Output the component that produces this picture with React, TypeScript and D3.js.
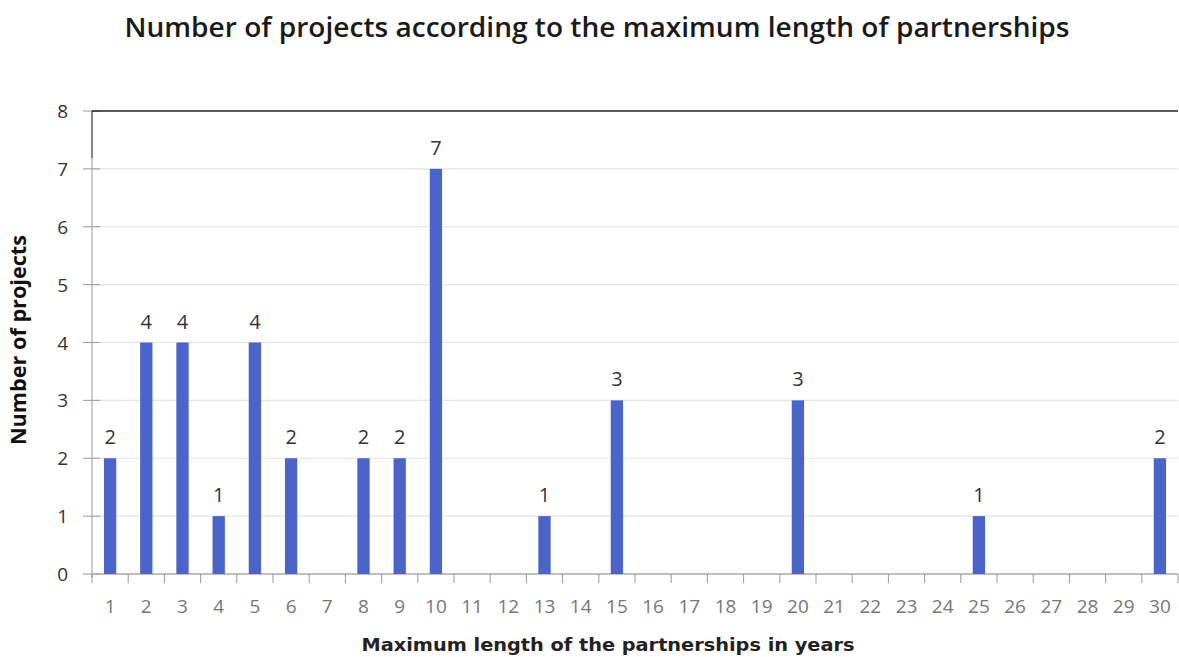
import React from "react";
import * as d3 from "d3";

const years = Array.from({ length: 30 }, (_, i) => String(i + 1));
const counts = [2, 4, 4, 1, 4, 2, 0, 2, 2, 7, 0, 0, 1, 0, 3, 0, 0, 0, 0, 3, 0, 0, 0, 0, 1, 0, 0, 0, 0, 2];
const yTicks = [0, 1, 2, 3, 4, 5, 6, 7, 8];

const W = 1179, H = 657;
const M = { left: 92, right: 1178, top: 111, bottom: 574 };

export default function App() {
  const x = d3.scaleBand<string>().domain(years).range([M.left, M.right]).paddingInner(0.66).paddingOuter(0.33);
  const xb = d3.scaleBand<string>().domain(years).range([M.left, M.right]);
  const y = d3.scaleLinear().domain([0, 8]).range([M.bottom, M.top]);
  const font = "'Open Sans', 'Noto Sans', sans-serif";
  return (
    <svg width={W} height={H} style={{ position: "absolute", left: 0, top: 0, background: "#fff" }}>
      <text x={597} y={37} textAnchor="middle" fontFamily={font} fontWeight={600} fontSize={27} fill="#1a1a1a" textLength={945} lengthAdjust="spacingAndGlyphs">
        Number of projects according to the maximum length of partnerships
      </text>
      {yTicks.map((t) => (
        <g key={t}>
          {t > 0 && t < 8 && <line x1={M.left} x2={M.right} y1={y(t)} y2={y(t)} stroke="#e3e3e3" strokeWidth={1.2} />}
          <line x1={M.left - 9} x2={M.left + 8} y1={y(t)} y2={y(t)} stroke="#999" strokeWidth={1} />
          <text x={68} y={y(t) + 7} textAnchor="end" fontFamily={font} fontSize={19} fill="#333">{t}</text>
        </g>
      ))}
      <line x1={M.left} x2={M.left} y1={M.top} y2={M.bottom + 4} stroke="#aaa" strokeWidth={1.2} />
      <line x1={M.left} x2={M.left} y1={M.top} y2={158} stroke="#555" strokeWidth={1.2} />
      <line x1={M.left} x2={M.right} y1={M.top} y2={M.top} stroke="#222" strokeWidth={1.5} />
      <line x1={M.left} x2={M.right} y1={M.bottom} y2={M.bottom} stroke="#aaa" strokeWidth={1.5} />
      {years.map((yr) => (
        <line key={"t" + yr} x1={xb(yr)!} x2={xb(yr)!} y1={M.bottom} y2={M.bottom + 9} stroke="#999" strokeWidth={1} />
      ))}
      <line x1={M.right} x2={M.right} y1={M.bottom} y2={M.bottom + 9} stroke="#999" strokeWidth={1} />
      {years.map((yr, i) => (
        <g key={yr}>
          {counts[i] > 0 && (
            <>
              <rect x={x(yr)!} y={y(counts[i])} width={x.bandwidth()} height={y(0) - y(counts[i])} fill="#4a64c9" />
              <text x={x(yr)! + x.bandwidth() / 2} y={y(counts[i]) - 14} textAnchor="middle" fontFamily={font} fontSize={20} fill="#333">
                {counts[i]}
              </text>
            </>
          )}
          <text x={xb(yr)! + xb.bandwidth() / 2} y={613} textAnchor="middle" fontFamily={font} fontSize={19} fill="#777">{yr}</text>
        </g>
      ))}
      <text x={608} y={651} textAnchor="middle" fontFamily="'DejaVu Sans', sans-serif" fontWeight="bold" fontSize={17} fill="#222" textLength={493} lengthAdjust="spacingAndGlyphs">
        Maximum length of the partnerships in years
      </text>
      <text transform={`translate(26, 340) rotate(-90)`} textAnchor="middle" fontFamily={font} fontWeight="bold" fontSize={22} fill="#111" textLength={210} lengthAdjust="spacingAndGlyphs">
        Number of projects
      </text>
    </svg>
  );
}
